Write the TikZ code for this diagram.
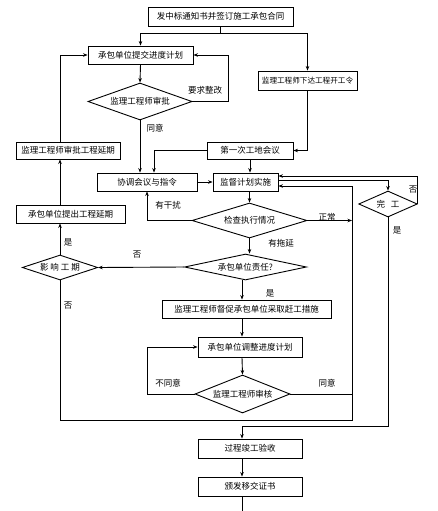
\documentclass[tikz,border=0pt]{standalone}
\usepackage{fontspec}
\newfontfamily\cjk{Noto Sans CJK SC}
\usetikzlibrary{shapes.geometric,arrows.meta}
\begin{document}
\begin{tikzpicture}[x=1pt,y=-1pt,
  every node/.style={font=\cjk\fontsize{8.5}{10}\selectfont, inner sep=0pt},
  box/.style={draw, line width=0.9pt, rectangle},
  dia/.style={draw, line width=0.9pt, diamond, aspect=4.5},
  line/.style={line width=0.9pt},
  arr/.style={line width=0.9pt,-{Stealth[length=4.5pt,width=3.5pt]}}]
\fill[white] (0,0) rectangle (438,511);
\useasboundingbox (0,0) rectangle (438,511);

% boxes
\node[box, minimum width=145pt, minimum height=19pt] (top) at (220.5,16.5) {发中标通知书并签订施工承包合同};
\node[box, minimum width=105pt, minimum height=18pt] (plan) at (140.5,55) {承包单位提交进度计划};
\node[box, minimum width=99pt, minimum height=19pt, font=\cjk\fontsize{7.6}{9}\selectfont] (kgl) at (307.5,80.5) {监理工程师下达工程开工令};
\node[dia, minimum width=104pt, minimum height=37pt] (d1) at (140,101.5) {监理工程师审批};
\node[box, minimum width=104pt, minimum height=17pt] (yq) at (68,150.5) {监理工程师审批工程延期};
\node[box, minimum width=86pt, minimum height=17pt] (meet) at (250,150.5) {第一次工地会议};
\node[box, minimum width=100pt, minimum height=18pt] (coord) at (147,182) {协调会议与指令};
\node[box, minimum width=65pt, minimum height=18pt] (sup) at (245.5,182) {监督计划实施};
\node[dia, minimum width=115pt, minimum height=35pt] (check) at (249.5,220.5) {检查执行情况};
\node[dia, minimum width=58pt, minimum height=26pt] (wg) at (388,204) {完\hspace{6pt}工};
\node[box, minimum width=109pt, minimum height=18pt] (tq) at (70.5,214) {承包单位提出工程延期};
\node[dia, minimum width=75pt, minimum height=25pt] (yx) at (60,267.5) {影\hspace{2pt}响\hspace{2pt}工\hspace{2pt}期};
\node[dia, minimum width=122pt, minimum height=26pt] (zr) at (245.5,267) {承包单位责任?};
\node[box, minimum width=169pt, minimum height=18pt] (gg) at (246.5,309) {监理工程师督促承包单位采取赶工措施};
\node[box, minimum width=104pt, minimum height=20pt] (tz) at (250,347) {承包单位调整进度计划};
\node[dia, minimum width=87pt, minimum height=38pt] (sh) at (242.5,394) {监理工程师审核};
\node[box, minimum width=104pt, minimum height=19pt] (ys) at (250,448.5) {过程竣工验收};
\node[box, minimum width=104pt, minimum height=19pt] (bf) at (250,486.5) {颁发移交证书};

% helper coordinates
\coordinate (j1) at (220.5,33);
\coordinate (xr1) at (228,0);
\coordinate (xa) at (154,0);
\coordinate (xl) at (60,0);
\coordinate (xv) at (352,0);
\coordinate (xc) at (242,0);
\coordinate (xs) at (147,0);
\coordinate (yb) at (0,420);
\coordinate (yb2) at (0,426);
\coordinate (s1) at ([yshift=6pt]sup.east);
\coordinate (s2) at ([yshift=2pt]sup.east);
\coordinate (s3) at ([yshift=-4pt]sup.east);
\coordinate (end) at (242,511);

% connectors
\draw[line] (top.south) -- (j1);
\draw[arr] (j1) -| (plan.north);
\draw[arr] (j1) -| (kgl.north);
\draw[arr] (plan.south) -- (d1.north);
\draw[arr] (d1.east) -- (d1.east -| xr1) |- (plan.east);
\draw[arr] (d1.south) -- (d1.south |- coord.north);
\draw[arr] (kgl.south) |- (meet.east);
\draw[arr] (meet.west) -| (xa |- coord.north);
\draw[arr] (meet.south) -- (meet.south |- sup.north);
\draw[arr] (coord.east) -- (sup.west);
\draw[arr] (check.north |- sup.south) -- (check.north);
\draw[arr] (xl |- yq.north) |- (plan.west);
\draw[arr] (xl |- tq.north) -- (xl |- yq.south);
\draw[arr] (yx.north) -- (yx.north |- tq.south);
\draw[arr] (zr.west) -- (yx.east);
\draw[arr] (check.west) -| (coord.south);
\draw[arr] (check.east) -- (check.east -| xv);
\draw[arr] (check.south) -- (check.south |- zr.north);
\draw[arr] (xc |- zr.south) -- (xc |- gg.north);
\draw[arr] (xc |- gg.south) -- (xc |- tz.north);
\draw[arr] (xc |- tz.south) -- (sh.north);
\draw[arr] (sh.west) -- (sh.west -| xs) |- (tz.west);
\draw[line] (sh.east) -- (sh.east -| xv);
\draw[arr] (yx.south) |- (yb -| xv) -- (s3 -| xv) -- (s3);
\draw[arr] (s2) -| (wg.north);
\draw[arr] (wg.east) |- (s1);
\draw[arr] (wg.south) |- (yb2 -| xc) -- (xc |- ys.north);
\draw[arr] (xc |- ys.south) -- (xc |- bf.north);
\draw[line] (xc |- bf.south) -- (end);

% labels
\node (l1) at (205,90) {要求整改};
\node (l2) at (155,128) {同意};
\node (l3) at (168,205) {有干扰};
\node (l4) at (327,217) {正常};
\node (l5) at (281,243) {有拖延};
\node (l6) at (413,190) {否};
\node (l7) at (397,230) {是};
\node (l8) at (68,242) {是};
\node (l9) at (137,255) {否};
\node (l10) at (270,293) {是};
\node (l11) at (68,306) {否};
\node (l12) at (168,383) {不同意};
\node (l13) at (327,383) {同意};
\end{tikzpicture}
\end{document}
